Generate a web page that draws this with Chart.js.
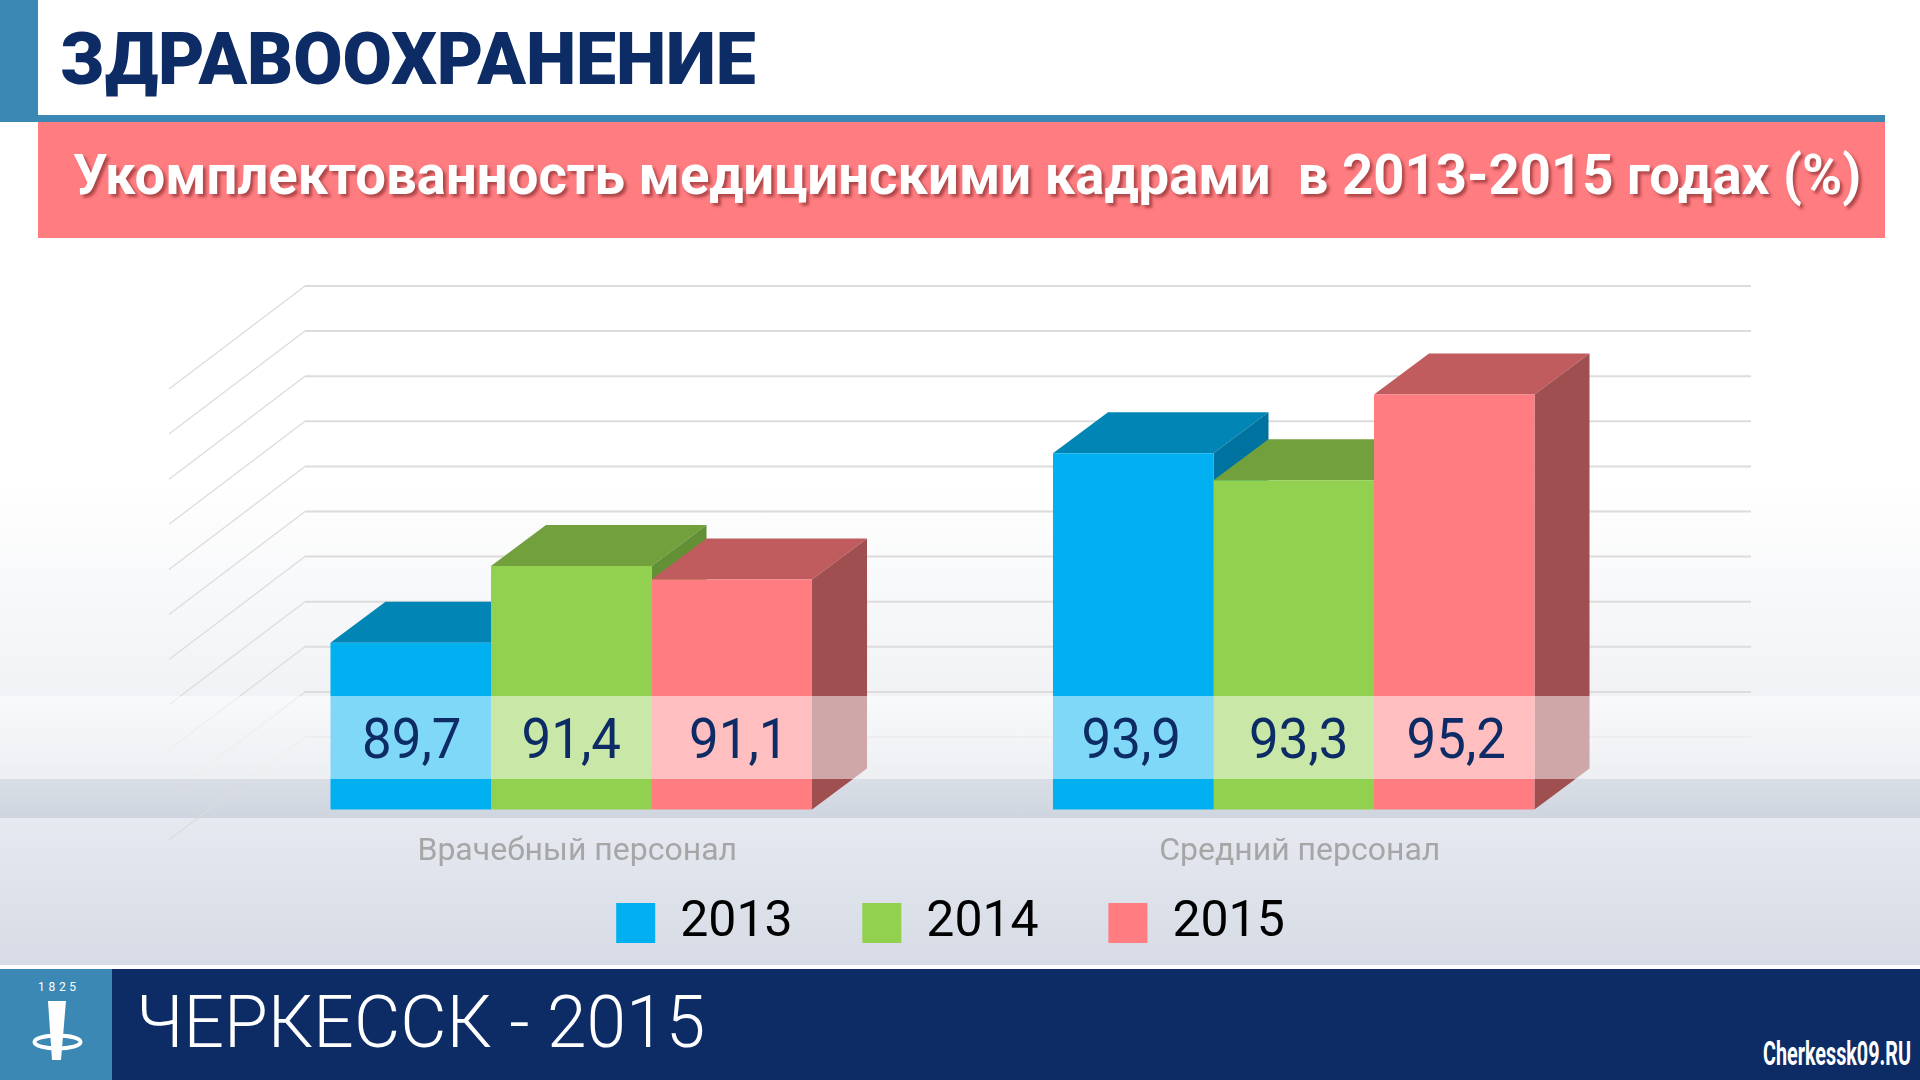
<!DOCTYPE html>
<html lang="ru">
<head>
<meta charset="utf-8">
<title>Здравоохранение</title>
<script src="https://cdn.jsdelivr.net/npm/chart.js@4"></script>
<style>
  html, body { margin: 0; padding: 0; }
  body {
    position: relative; width: 1920px; height: 1080px; overflow: hidden;
    background:
      linear-gradient(#e6e9f0, #d6dbe5) 0 818px / 100% 147px no-repeat,
      linear-gradient(#ffffff 0, #ffffff 480px, #f0f2f5 700px, #d9dee6 780px, #cfd5df 818px) 0 0 / 100% 818px no-repeat,
      #fff;
    font-family: Roboto, sans-serif;
  }
  #grafico { position: absolute; left: 0; top: 0; z-index: 2; }
  .bloco { position: absolute; }
  .texto { position: absolute; white-space: pre; transform-origin: 0 50%; }
  #titulo { left: 60px; top: 18px; font: 900 72px/84px Roboto, sans-serif; color: #0d2c66; }
  #faixa { left: 73px; top: 142px; font: 700 56px/66px Roboto, sans-serif; color: #fff; text-shadow: 3px 3px 3px rgba(110, 30, 30, .55); }
  #rodape { left: 136px; top: 981px; font: 300 72px/84px Roboto, sans-serif; color: #fff; }
  #site { left: 1763px; top: 1038px; font: 700 33px/32px Roboto, sans-serif; color: #fff; }
  #ano { left: 38px; top: 980px; font: 400 12px/14px Roboto, sans-serif; color: #fff; letter-spacing: 3.7px; }
</style>
</head>
<body>
<div class="bloco" style="left:0;top:0;width:38px;height:122px;background:#3b88b5"></div>
<div class="bloco" style="left:38px;top:115px;width:1847px;height:7px;background:#3b88b5"></div>
<div class="bloco" style="left:38px;top:122px;width:1847px;height:116px;background:#ff7c80"></div>
<div class="bloco" style="left:0;top:965px;width:1920px;height:4px;background:#fff"></div>
<div class="bloco" style="left:0;top:969px;width:1920px;height:111px;background:#0d2c66"></div>
<div class="bloco" style="left:0;top:969px;width:112px;height:111px;background:#3b88b5"></div>
<svg class="bloco" style="left:0;top:969px" width="112" height="111" viewBox="0 0 112 111">
  <ellipse cx="57.5" cy="73" rx="23" ry="6.5" fill="none" stroke="#fff" stroke-width="4"/>
  <path d="M48 32 H66 L61 91 H52 Z" fill="#fff"/>
</svg>
<div class="texto" id="titulo" data-w="696">ЗДРАВООХРАНЕНИЕ</div>
<div class="texto" id="faixa" data-w="1788">Укомплектованность медицинскими кадрами  в 2013-2015 годах (%)</div>
<div class="texto" id="rodape" data-w="569">ЧЕРКЕССК - 2015</div>
<div class="texto" id="site" data-w="148">Cherkessk09.RU</div>
<div class="texto" id="ano">1825</div>
<canvas id="grafico" width="1920" height="958"></canvas>

<script>
const categorias = ['Врачебный персонал', 'Средний персонал'];
const anos = ['2013', '2014', '2015'];
const valores2013 = [89.7, 93.9];
const valores2014 = [91.4, 93.3];
const valores2015 = [91.1, 95.2];
const eixoMin = 86;
const eixoMax = 96;

// ajusta a largura dos textos do slide
document.querySelectorAll('.texto[data-w]').forEach((el) => {
  el.style.transform = 'scaleX(' + (el.dataset.w / el.offsetWidth) + ')';
});

// grade em perspectiva, atras das barras
const gradePlugin = {
  id: 'grade',
  beforeDatasetsDraw(chart) {
    const ctx = chart.ctx;
    const y = chart.scales.y;
    ctx.save();
    ctx.strokeStyle = '#dcdcdc';
    y.ticks.forEach((t) => {
      const py = y.getPixelForValue(t.value) - 72.5;
      ctx.lineWidth = 2;
      ctx.beginPath();
      ctx.moveTo(305, py);
      ctx.lineTo(1751, py);
      ctx.stroke();
      ctx.lineWidth = 1.3;
      ctx.beginPath();
      ctx.moveTo(305, py);
      ctx.lineTo(169, py + 103);
      ctx.stroke();
    });
    ctx.restore();
  }
};

const topos = ['#0085b5', '#72a03d', '#c05c5e'];
const lados = ['#0072a0', '#639035', '#a04f50'];
const dx = 55;
const dy = 41;

function poligono(ctx, cor, pts) {
  ctx.fillStyle = cor;
  ctx.beginPath();
  pts.forEach((p, i) => (i ? ctx.lineTo(p[0], p[1]) : ctx.moveTo(p[0], p[1])));
  ctx.closePath();
  ctx.fill();
}

// topo e lateral de cada barra; a frente quem desenha e o proprio Chart.js
const cuboPlugin = {
  id: 'cubo',
  beforeDatasetsDraw(chart) {
    const ctx = chart.ctx;
    const base = chart.scales.y.getPixelForValue(eixoMin);
    chart.data.datasets.forEach((ds, i) => {
      chart.getDatasetMeta(i).data.forEach((bar) => {
        const esq = bar.x - bar.width / 2;
        const dir = bar.x + bar.width / 2;
        poligono(ctx, topos[i], [[esq, bar.y], [dir, bar.y], [dir + dx, bar.y - dy], [esq + dx, bar.y - dy]]);
        poligono(ctx, lados[i], [[dir, bar.y], [dir + dx, bar.y - dy], [dir + dx, base - dy], [dir, base]]);
      });
    });
  }
};

// os rotulos do original nao estao bem centrados nas barras
const ajusteRotulo = [[1, -2], [0, 5], [7, 2]];

// faixa branca e valores por cima das barras
const faixaPlugin = {
  id: 'faixaValores',
  afterDatasetsDraw(chart) {
    const ctx = chart.ctx;
    ctx.save();
    ctx.fillStyle = 'rgba(255, 255, 255, 0.5)';
    ctx.fillRect(0, 696, 1920, 83);
    ctx.fillStyle = '#0d2c66';
    ctx.font = '400 55px Roboto';
    ctx.textAlign = 'center';
    ctx.textBaseline = 'middle';
    chart.data.datasets.forEach((ds, i) => {
      chart.getDatasetMeta(i).data.forEach((bar, j) => {
        ctx.save();
        ctx.translate(bar.x + ajusteRotulo[i][j], 744);
        ctx.scale(0.96, 1);
        ctx.fillText(ds.data[j].toFixed(1).replace('.', ','), 0, 0);
        ctx.restore();
      });
    });
    ctx.restore();
  }
};

const ajustePlugin = {
  id: 'ajusteLayout',
  afterLayout(chart) {
    // a legenda do Chart.js fica centrada na area; aqui so desloca para o lugar certo
    chart.legend.left += 18;
    chart.legend.right += 18;
    // o eixo x recorta os rotulos na propria caixa, entao alarga depois do layout
    chart.scales.x.bottom += 60;
  }
};

new Chart(document.getElementById('grafico'), {
  type: 'bar',
  data: {
    labels: categorias,
    datasets: [
      { label: anos[0], data: valores2013, backgroundColor: '#00b0f0' },
      { label: anos[1], data: valores2014, backgroundColor: '#92d050' },
      { label: anos[2], data: valores2015, backgroundColor: '#ff7c80' }
    ]
  },
  options: {
    responsive: false,
    animation: false,
    devicePixelRatio: 1,
    layout: { padding: { left: 210, right: 265, top: 358.5 } },
    datasets: { bar: { barPercentage: 1, categoryPercentage: 0.6665, borderWidth: 0 } },
    scales: {
      x: {
        grid: { display: false },
        border: { display: false },
        afterFit(axis) { axis.height = 18.8; },
        ticks: {
          color: '#a6a6a6',
          font: { family: 'Roboto', size: 32 },
          padding: 15,
          labelOffset: 6,
          maxRotation: 0
        }
      },
      y: {
        display: false,
        min: eixoMin,
        max: eixoMax,
        ticks: { stepSize: 1 }
      }
    },
    plugins: {
      title: { display: false },
      tooltip: { enabled: false },
      legend: {
        position: 'bottom',
        labels: {
          boxWidth: 39,
          boxHeight: 40,
          padding: 69.7,
          color: '#000',
          font: { family: 'Roboto', size: 50 }
        }
      }
    }
  },
  plugins: [gradePlugin, cuboPlugin, faixaPlugin, ajustePlugin]
});
</script>
</body>
</html>
